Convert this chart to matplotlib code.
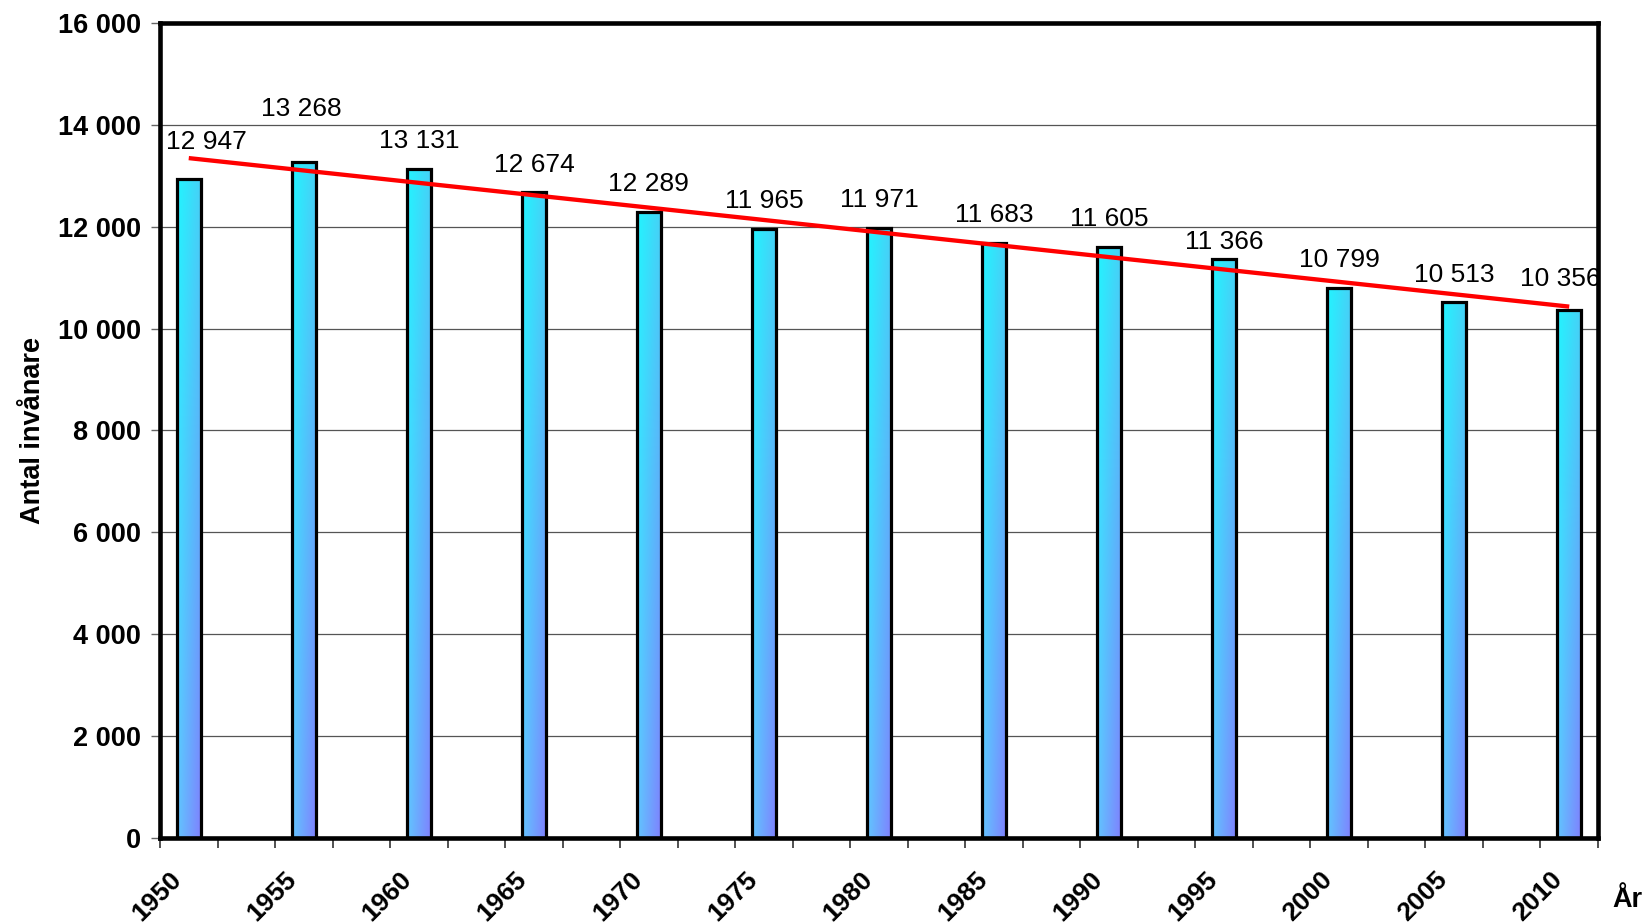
import numpy as np
import matplotlib
matplotlib.use("Agg")
import matplotlib.pyplot as plt
from matplotlib.transforms import ScaledTranslation

# --- data ---
years = [1950, 1955, 1960, 1965, 1970, 1975, 1980, 1985, 1990, 1995, 2000, 2005, 2010]
population = [12947, 13268, 13131, 12674, 12289, 11965, 11971, 11683, 11605, 11366, 10799, 10513, 10356]
y_ticks = [0, 2000, 4000, 6000, 8000, 10000, 12000, 14000, 16000]

# label nudges (points) so labels don't clash with the line / frame
label_nudge = {1950: (12.5, 6), 1955: (-1.5, 18), 1995: (0, -8), 2010: (-6.5, 3)}

plt.rcParams['font.family'] = ['Liberation Sans', 'DejaVu Sans']

def fmt(v):
    return f"{v:,}".replace(",", " ")

W, H = 1646, 924
fig = plt.figure(figsize=(W / 100, H / 100), dpi=100)
ax = fig.add_axes([160 / W, (H - 838) / H, 1438 / W, 815 / H])

# every year is a category, only every 5th one has a bar
pos = np.arange(len(years)) * 2
n_cat = pos[-1] + 1
bar_w = 0.42

# gradient colours: top-left, top-right, bottom-left, bottom-right
tl = np.array([0x22, 0xF4, 0xFF]) / 255
tr = np.array([0x48, 0xD0, 0xF6]) / 255
bl = np.array([0x62, 0xC4, 0xFF]) / 255
br = np.array([0x80, 0x80, 0xFF]) / 255
gy, gx = np.mgrid[0:1:200j, 0:1:20j]
gy = gy[..., None]
gx = gx[..., None]
grad = (1 - gy) * ((1 - gx) * tl + gx * tr) + gy * ((1 - gx) * bl + gx * br)

for p, v in zip(pos, population):
    ax.imshow(grad, extent=(p - bar_w / 2, p + bar_w / 2, 0, v), origin='upper',
              aspect='auto', zorder=2, interpolation='bilinear')
ax.bar(pos, population, width=bar_w, facecolor='none', edgecolor='black',
       linewidth=2.3, zorder=3)

# linear trend line
k, m = np.polyfit(np.arange(len(years)), population, 1)
trend = k * np.arange(len(years)) + m
ax.plot([pos[0], pos[-1]], [trend[0], trend[-1]], color='#FF0000', lw=3.1, zorder=4,
        solid_capstyle='butt')

# value labels
for yr, p, v in zip(years, pos, population):
    dx, dy = label_nudge.get(yr, (0, 0))
    ax.annotate(fmt(v), (p, v), xytext=(dx, 20 + dy), textcoords='offset points',
                ha='center', va='center', fontsize=19, zorder=5)

ax.set_xlim(-0.5, n_cat - 0.5)
ax.set_ylim(0, 16000)

ax.set_yticks(y_ticks)
ax.set_yticklabels([fmt(t) for t in y_ticks], fontsize=19.5, fontweight='bold')
ax.yaxis.grid(True, color='#555555', lw=0.9, zorder=1)
ax.set_axisbelow(True)
ax.tick_params(axis='y', length=6.5, width=1, color='#666666', pad=7)

ax.set_xticks(pos)
ax.set_xticklabels([str(y) for y in years], fontsize=19, fontweight='bold',
                   rotation=45, ha='right', rotation_mode='anchor')
ax.tick_params(axis='x', which='major', length=0, pad=21)
shift = ScaledTranslation(-19 / 100, 0, fig.dpi_scale_trans)
for lab in ax.get_xticklabels():
    lab.set_transform(lab.get_transform() + shift)
ax.set_xticks(np.arange(n_cat + 1) - 0.5, minor=True)
ax.tick_params(axis='x', which='minor', length=7.5, width=1.2, color='#333333')

for s in ax.spines.values():
    s.set_linewidth(3.3)
    s.set_color('black')

ax.set_ylabel("Antal invånare", fontsize=19.5, fontweight='bold', labelpad=9)
fig.text(1627 / W, 1 - 900 / H, "År", fontsize=19.5, fontweight='bold',
         ha='center', va='center')

fig.savefig("out.png", dpi=100, facecolor='white')
